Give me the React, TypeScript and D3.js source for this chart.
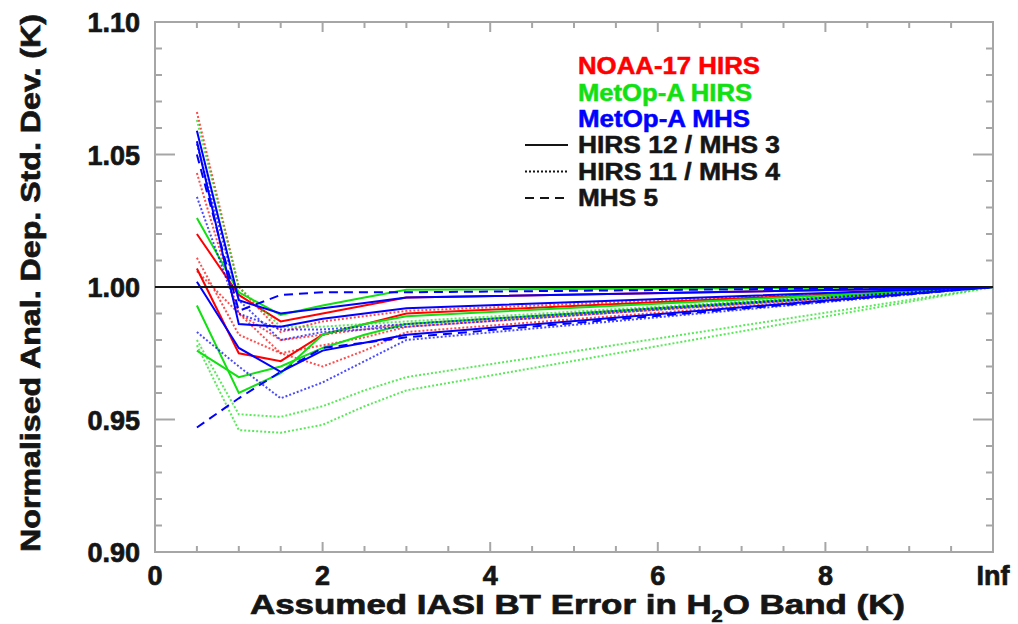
import * as d3 from "d3";

// x positions of the experiments (10 stands for "Inf")
const xPts = [0.5, 1, 1.5, 2, 2.5, 3, 10];
const xMajor = [0, 2, 4, 6, 8, 10];
const xTickLabels = ["0", "2", "4", "6", "8", "Inf"];
const yMajor = [0.9, 0.95, 1.0, 1.05, 1.1];
const yTickLabels = ["0.90", "0.95", "1.00", "1.05", "1.10"];

// NOAA-17 HIRS
const noaaHirs12A = [1.007, 0.975, 0.972, 0.982, 0.986, 0.99, 1.0];
const noaaHirs12B = [1.02, 0.997, 0.987, 0.99, 0.993, 0.996, 1.0];
const noaaHirs11A = [1.066, 1.0, 0.983, 0.987, 0.989, 0.991, 1.0];
const noaaHirs11B = [1.043, 0.99, 0.975, 0.978, 0.981, 0.985, 1.0];
const noaaHirs11C = [1.011, 0.982, 0.975, 0.97, 0.976, 0.983, 1.0];
const noaaHirs11D = [1.006, 0.99, 0.98, 0.982, 0.984, 0.986, 1.0];

// MetOp-A HIRS
const metopHirs12A = [1.026, 0.998, 0.9895, 0.993, 0.996, 0.999, 1.0];
const metopHirs12B = [0.993, 0.96, 0.9675, 0.982, 0.986, 0.989, 1.0];
const metopHirs12C = [0.976, 0.966, 0.97, 0.977, 0.982, 0.986, 1.0];
const metopHirs11A = [1.063, 1.0, 0.985, 0.985, 0.986, 0.987, 1.0];
const metopHirs11B = [0.98, 0.952, 0.951, 0.955, 0.961, 0.966, 1.0];
const metopHirs11C = [0.978, 0.946, 0.945, 0.948, 0.955, 0.961, 1.0];

// MetOp-A MHS
const metopMhs3A = [1.059, 0.995, 0.99, 0.992, 0.994, 0.996, 1.0];
const metopMhs3B = [1.055, 0.986, 0.985, 0.988, 0.99, 0.992, 1.0];
const metopMhs3C = [1.002, 0.977, 0.968, 0.976, 0.979, 0.982, 1.0];
const metopMhs4A = [1.054, 0.995, 0.98, 0.983, 0.984, 0.985, 1.0];
const metopMhs4B = [1.034, 0.99, 0.984, 0.984, 0.985, 0.986, 1.0];
const metopMhs4C = [0.983, 0.97, 0.958, 0.964, 0.972, 0.98, 1.0];
const metopMhs5A = [1.05, 0.991, 0.997, 0.998, 0.998, 0.998, 1.0];
const metopMhs5B = [0.947, 0.958, 0.968, 0.977, 0.979, 0.981, 1.0];

const RED = "#ff0000";
const GREEN = "#12e012";
const BLUE = "#0000ff";

const series = [
  { v: noaaHirs11A, c: RED, s: "dot" },
  { v: noaaHirs11B, c: RED, s: "dot" },
  { v: noaaHirs11C, c: RED, s: "dot" },
  { v: noaaHirs11D, c: RED, s: "dot" },
  { v: noaaHirs12A, c: RED, s: "solid" },
  { v: noaaHirs12B, c: RED, s: "solid" },
  { v: metopHirs11A, c: GREEN, s: "dot" },
  { v: metopHirs11B, c: GREEN, s: "dot" },
  { v: metopHirs11C, c: GREEN, s: "dot" },
  { v: metopHirs12A, c: GREEN, s: "solid" },
  { v: metopHirs12B, c: GREEN, s: "solid" },
  { v: metopHirs12C, c: GREEN, s: "solid" },
  { v: metopMhs4A, c: BLUE, s: "dot" },
  { v: metopMhs4B, c: BLUE, s: "dot" },
  { v: metopMhs4C, c: BLUE, s: "dot" },
  { v: metopMhs5A, c: BLUE, s: "dash" },
  { v: metopMhs5B, c: BLUE, s: "dash" },
  { v: metopMhs3A, c: BLUE, s: "solid" },
  { v: metopMhs3B, c: BLUE, s: "solid" },
  { v: metopMhs3C, c: BLUE, s: "solid" },
];

const dashOf = (s: string) => (s === "dot" ? "2 2" : s === "dash" ? "9 6" : undefined);

const App = () => {
  const left = 155, right = 993, top = 22, bottom = 552;
  const x = d3.scaleLinear().domain([0, 10]).range([left, right]);
  const y = d3.scaleLinear().domain([0.9, 1.1]).range([bottom, top]);
  const line = d3
    .line<number>()
    .x((_, i) => x(xPts[i]))
    .y((d) => y(d));

  const xMinor = d3.range(0, 10.01, 0.5);
  const yMinor = d3.range(0, 21).map((i) => 0.9 + i * 0.01);
  const axisColor = "#a6a6a6";
  const font = "'Liberation Sans', Arial, sans-serif";
  const ink = "#151515";

  const legendItems = [
    { t: "NOAA-17 HIRS", c: RED, w: 182 },
    { t: "MetOp-A HIRS", c: GREEN, w: 174 },
    { t: "MetOp-A MHS", c: BLUE, w: 172 },
  ];
  const legendStyles = [
    { t: "HIRS 12 / MHS 3", s: "solid", w: 202 },
    { t: "HIRS 11 / MHS 4", s: "dot", w: 202 },
    { t: "MHS 5", s: "dash", w: 80 },
  ];

  return (
    <div style={{ position: "absolute", left: 0, top: 0 }}>
      <svg width={1018} height={624} style={{ display: "block", background: "#fff" }} fontFamily={font} fontWeight="bold">
        {/* frame */}
        <rect x={left} y={top} width={right - left} height={bottom - top} fill="none" stroke={axisColor} strokeWidth={2} />
        {xMinor.map((t) => {
          const major = Math.abs(t % 2) < 1e-6;
          const len = major ? 10 : 6;
          return (
            <g key={"xt" + t} stroke={axisColor} strokeWidth={2}>
              <line x1={x(t)} x2={x(t)} y1={bottom} y2={bottom - len} />
              <line x1={x(t)} x2={x(t)} y1={top} y2={top + len} />
            </g>
          );
        })}
        {yMinor.map((t, i) => {
          const major = i % 5 === 0;
          const len = major ? 20 : 7;
          return (
            <g key={"yt" + i} stroke={axisColor} strokeWidth={2}>
              <line x1={left} x2={left + len} y1={y(t)} y2={y(t)} />
              <line x1={right} x2={right - len} y1={y(t)} y2={y(t)} />
            </g>
          );
        })}
        {/* tick labels */}
        <g fill={ink} stroke={ink} strokeWidth={0.7}>
          {xMajor.map((t, i) => (
            <text key={"xl" + i} x={x(t)} y={585} textAnchor="middle" fontSize={27}>
              {xTickLabels[i]}
            </text>
          ))}
          {yMajor.map((t, i) => (
            <text key={"yl" + i} x={140} y={y(t) + 10} textAnchor="end" fontSize={27}>
              {yTickLabels[i]}
            </text>
          ))}
          {/* axis titles */}
          <text x={250} y={614} fontSize={28} textLength={655} lengthAdjust="spacingAndGlyphs">
            Assumed IASI BT Error in H<tspan fontSize={16} dy={8}>2</tspan>
            <tspan dy={-8}>O Band (K)</tspan>
          </text>
          <text
            transform={`translate(40,${552}) rotate(-90)`}
            fontSize={28}
            textLength={538}
            lengthAdjust="spacingAndGlyphs"
          >
            Normalised Anal. Dep. Std. Dev. (K)
          </text>
        </g>
        {/* data */}
        {series.map((d, i) => (
          <path
            key={"s" + i}
            d={line(d.v) || ""}
            fill="none"
            stroke={d.c}
            strokeWidth={2}
            strokeDasharray={dashOf(d.s)}
            opacity={d.s === "dot" ? 0.7 : 1}
          />
        ))}
        <line x1={left} x2={right} y1={y(1)} y2={y(1)} stroke={ink} strokeWidth={2} />
        {/* legend */}
        {legendItems.map((l, i) => (
          <text
            key={"lg" + i}
            x={578}
            y={74 + i * 26.5}
            fontSize={23}
            fill={l.c}
            stroke={l.c}
            strokeWidth={0.5}
            textLength={l.w}
            lengthAdjust="spacingAndGlyphs"
          >
            {l.t}
          </text>
        ))}
        {legendStyles.map((l, i) => {
          const yy = 153 + i * 26.5;
          return (
            <g key={"ls" + i}>
              <line x1={525} x2={568} y1={yy - 8} y2={yy - 8} stroke={ink} strokeWidth={2} strokeDasharray={dashOf(l.s)} />
              <text
                x={578}
                y={yy}
                fontSize={23}
                fill={ink}
                stroke={ink}
                strokeWidth={0.5}
                textLength={l.w}
                lengthAdjust="spacingAndGlyphs"
              >
                {l.t}
              </text>
            </g>
          );
        })}
      </svg>
    </div>
  );
};

export default App;
